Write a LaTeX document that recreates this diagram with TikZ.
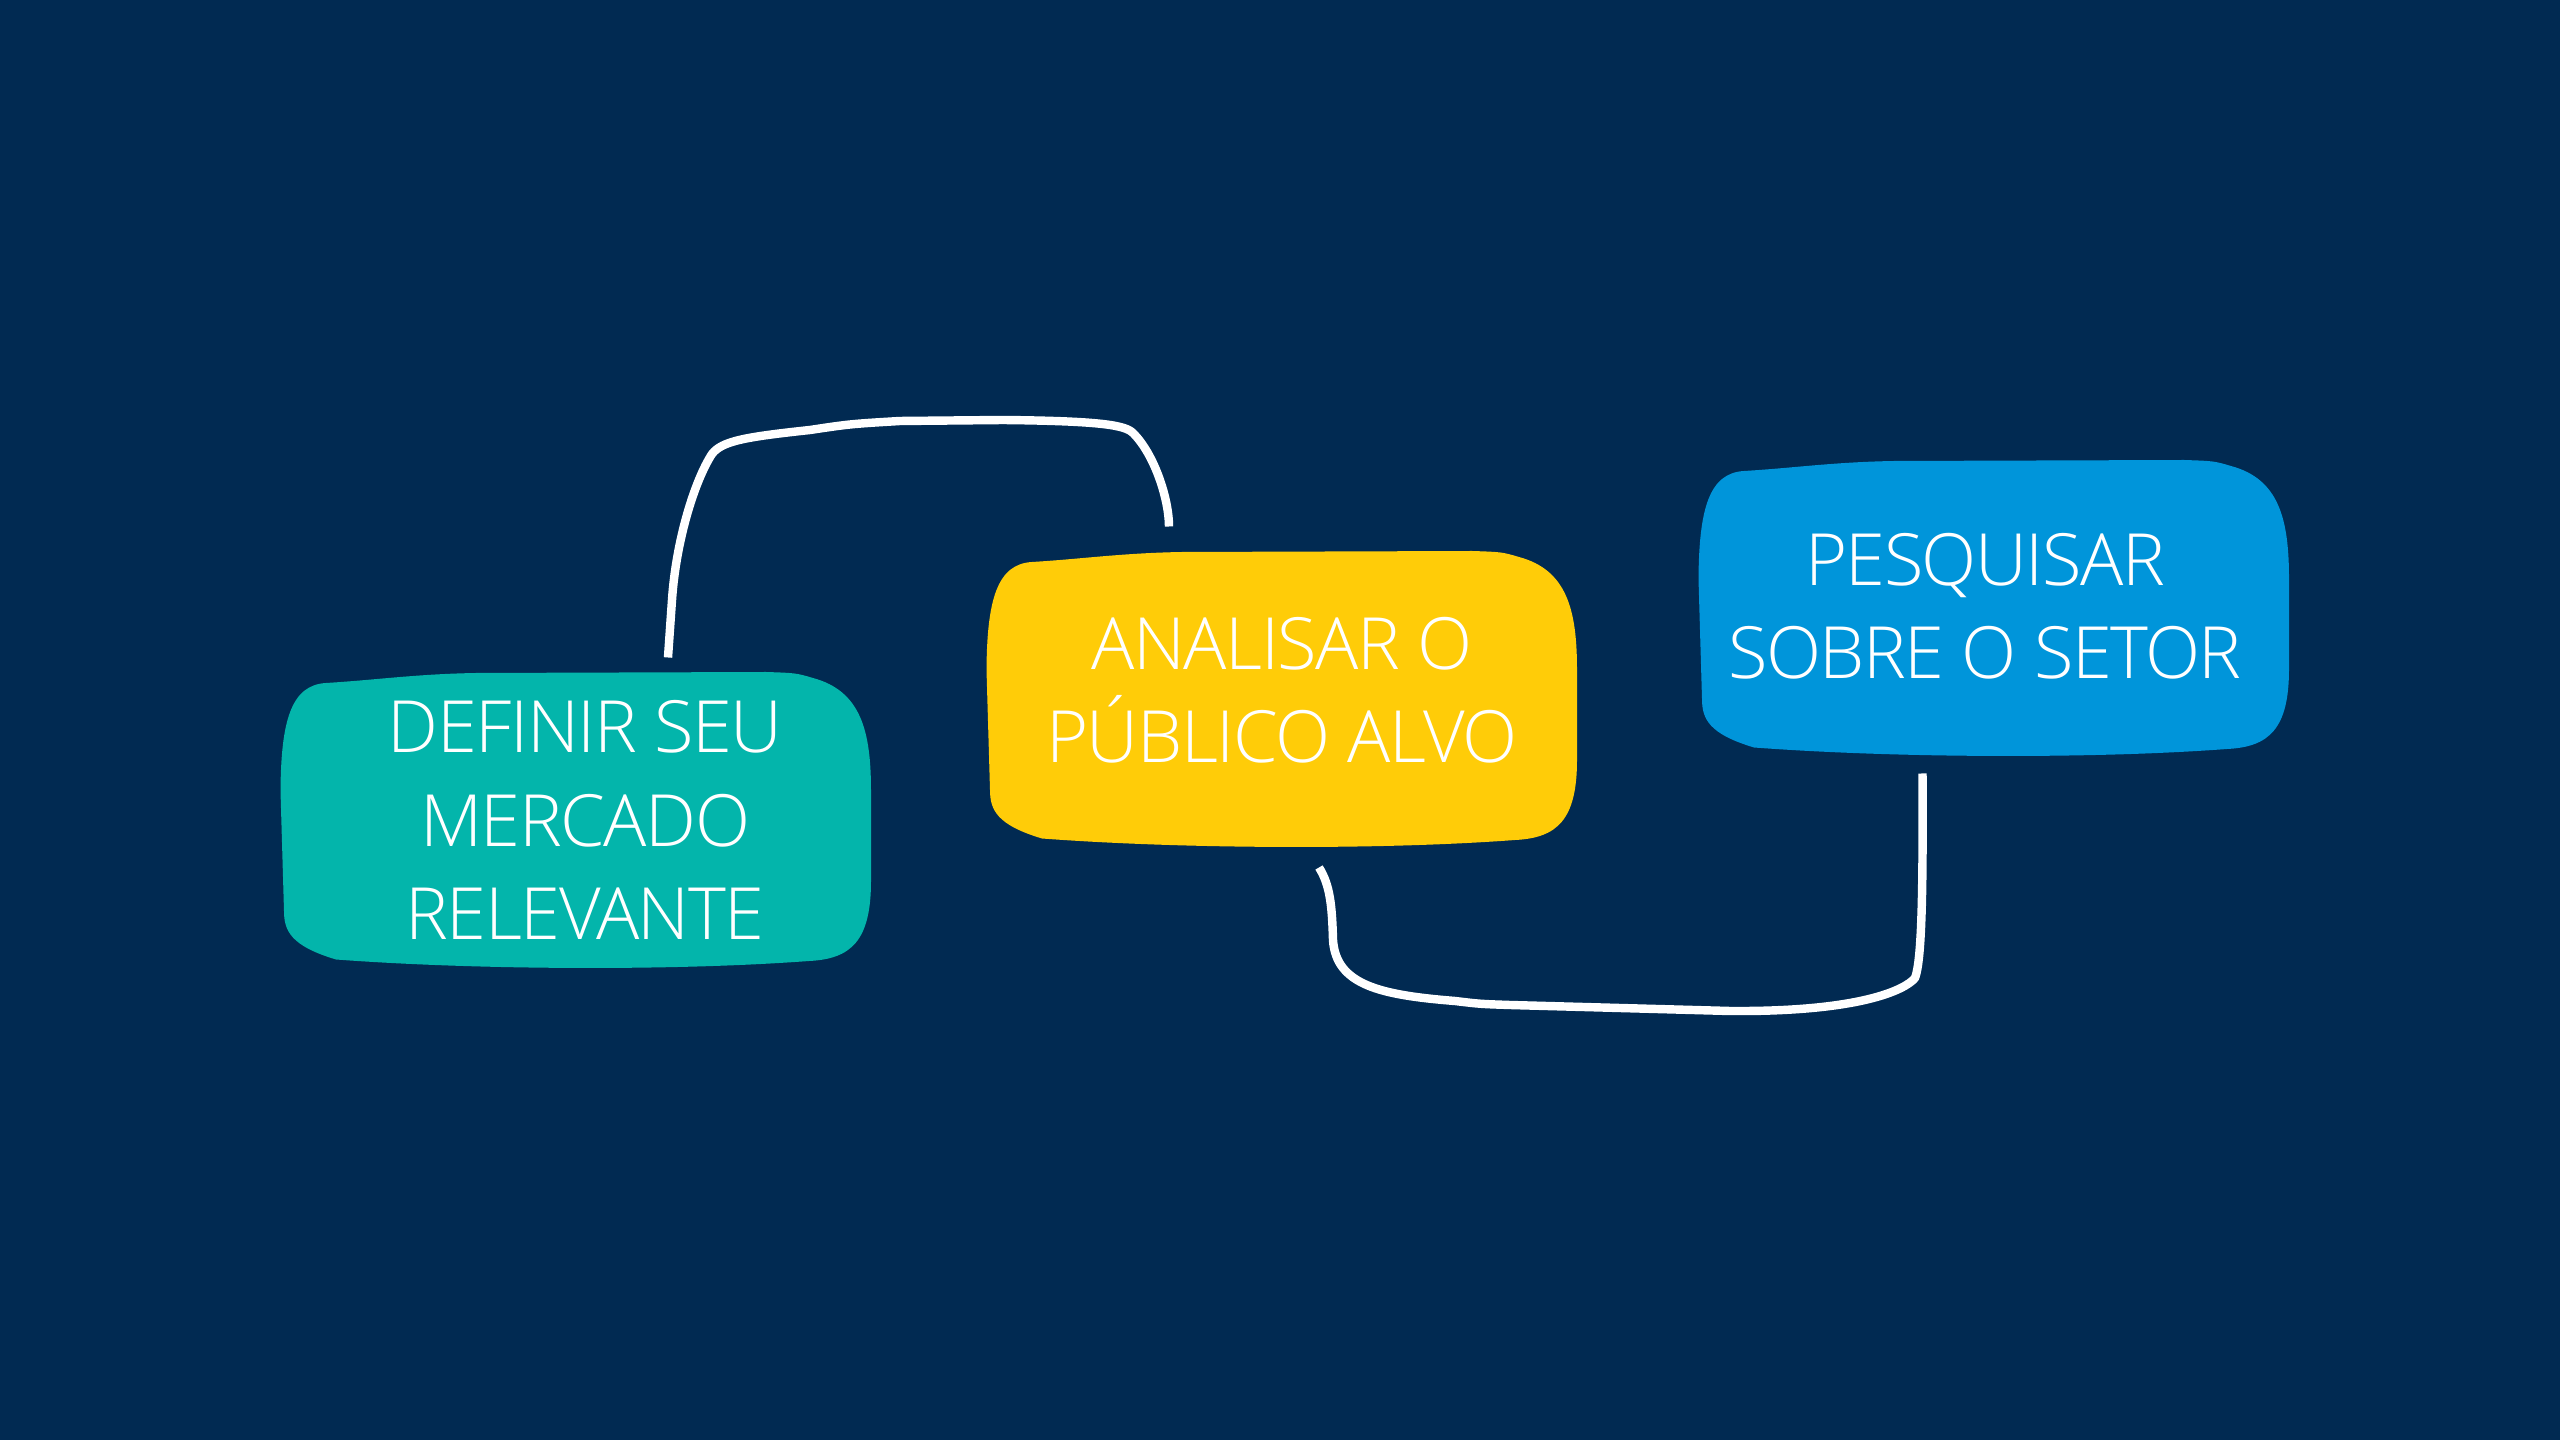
\documentclass[tikz,border=0pt]{standalone}
\usepackage{fontspec}
\IfFontExistsTF{Open Sans Light}{\setmainfont[LetterSpace=-2]{Open Sans Light}}{\setmainfont[LetterSpace=-2]{Open Sans}}
\usetikzlibrary{backgrounds}
\definecolor{navyBack}{HTML}{012A52}
\definecolor{tealBox}{HTML}{03B5AB}
\definecolor{yellowBox}{HTML}{FFCC08}
\definecolor{blueBox}{HTML}{0095DA}
% hand drawn box outline, around a named point
\newcommand{\blobAt}[2]{%
  \fill[#2,shift={(#1)}] (-2.5,1.38)
    .. controls (-2.0,1.41) and (-1.6,1.47) .. (-1.0,1.48) -- (1.9,1.49)
    .. controls (2.2,1.48) .. (2.37,1.43)
    .. controls (2.85,1.3) and (2.95,0.9) .. (2.95,0.3) -- (2.95,-0.6)
    .. controls (2.95,-1.2) and (2.75,-1.38) .. (2.33,-1.40)
    .. controls (1.0,-1.50) and (-1.0,-1.49) .. (-2.4,-1.385)
    .. controls (-2.85,-1.25) and (-2.92,-1.1) .. (-2.92,-0.9)
    -- (-2.955,0.3)
    .. controls (-2.95,1.0) and (-2.85,1.36) .. (-2.5,1.38) -- cycle;}
\begin{document}
\begin{tikzpicture}
[boxText/.style={text=white,align=center,inner sep=0pt,
    font=\fontsize{20.5}{26.5}\selectfont},%
  lineDecorate/.style={-,white,line width=2.4pt,line cap=butt,line join=round}]
\useasboundingbox (0,0) rectangle (25.6,14.4);
%% boxes with their texts
\foreach \nodename/\x/\y/\tx/\ty/\txt in {
  definir/5.76/6.19/0.09/0.01/{DEFINIR SEU\\MERCADO\\RELEVANTE},
  analisar/12.82/7.40/0.0/0.10/{ANALISAR O\\PÚBLICO ALVO},
  pesquisar/19.94/8.31/-0.09/0.03/{PESQUISAR\\SOBRE O SETOR}}
{
  \coordinate (\nodename) at (\x,\y);
  \node (\nodename-text) at ([shift={(\tx,\ty)}]\nodename) [boxText] {\txt};
}
\begin{scope}[on background layer]
  \fill[navyBack] (0,0) rectangle (25.6,14.4);
  \foreach \nodename/\col in {definir/tealBox, analisar/yellowBox, pesquisar/blueBox}
  {
    \blobAt{\nodename}{\col}
  }
\end{scope}
%% connectors
\coordinate (c1a) at ([shift={(0.92,1.635)}]definir);
\coordinate (c1b) at ([shift={(-1.13,1.735)}]analisar);
\coordinate (c2a) at ([shift={(0.37,-1.675)}]analisar);
\coordinate (c2b) at ([shift={(-0.715,-1.645)}]pesquisar);
\draw[lineDecorate] (c1a) -- (6.72,8.40)
  .. controls (6.76,9.0) and (6.95,9.6) .. (7.12,9.86)
  .. controls (7.22,9.99) and (7.45,10.03) .. (8.1,10.10)
  .. controls (8.5,10.16) .. (9.0,10.19) -- (10.03,10.20)
  .. controls (11.0,10.19) and (11.25,10.15) .. (11.33,10.07)
  .. controls (11.55,9.85) and (11.69,9.4) .. (c1b);
\draw[lineDecorate] (c2a)
  .. controls (13.30,5.55) and (13.32,5.35) .. (13.33,5.0)
  .. controls (13.36,4.55) and (13.8,4.45) .. (14.55,4.39)
  .. controls (14.8,4.36) .. (15.1,4.35) -- (17.3,4.29)
  .. controls (18.6,4.28) and (19.05,4.5) .. (19.15,4.62)
  .. controls (19.22,4.8) and (19.23,5.5) .. (c2b);
\end{tikzpicture}
\end{document}
